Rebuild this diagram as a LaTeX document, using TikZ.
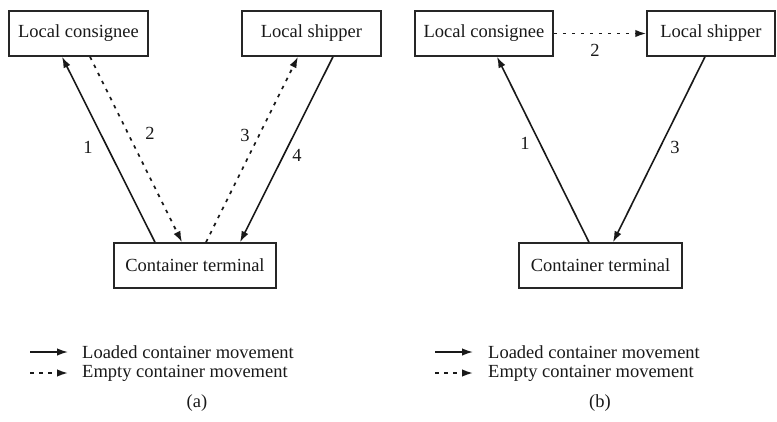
\documentclass[tikz,border=0pt]{standalone}
\usepackage{fontspec}
\setmainfont{Liberation Serif}
\usetikzlibrary{arrows.meta}
\begin{document}
\begin{tikzpicture}[x=1pt,y=-1pt,
  every node/.style={font=\fontsize{18.5}{21}\selectfont, text=black!90},
  box/.style={draw=black!85, line width=1.5pt, minimum height=45pt, inner sep=0pt},
  loaded/.style={draw=black!90, line width=1.6pt, -{Latex[length=11pt,width=7.5pt]}},
  empty/.style={draw=black!90, line width=1.7pt, dash pattern=on 3.5pt off 5.5pt, -{Latex[length=11pt,width=7.5pt]}},
  lbl/.style={inner sep=0pt}
]
\useasboundingbox (0,0) rectangle (777,421);
% panel (a)
\node[box, minimum width=139pt] (ca) at (78.5,33.5) {Local consignee};
\node[box, minimum width=139pt] (sa) at (311.5,33.5) {Local shipper};
\node[box, minimum width=162pt] (ta) at (195,265.5) {Container terminal};
\draw[loaded] ([xshift=-40pt]ta.north) -- ([xshift=-16.5pt]ca.south);
\draw[empty] ([xshift=11.5pt]ca.south) -- ([xshift=-13pt]ta.north);
\draw[empty] ([xshift=11pt]ta.north) -- ([xshift=-13.5pt]sa.south);
\draw[loaded] ([xshift=21.5pt]sa.south) -- ([xshift=45pt]ta.north);
\node[lbl] (na1) at (88,147) {1};
\node[lbl] (na2) at (150,133) {2};
\node[lbl] (na3) at (245,135) {3};
\node[lbl] (na4) at (297,155) {4};
% panel (b)
\node[box, minimum width=138pt] (cb) at (484,33.5) {Local consignee};
\node[box, minimum width=128pt] (sb) at (711,33.5) {Local shipper};
\node[box, minimum width=163pt] (tb) at (600.5,265.5) {Container terminal};
\draw[loaded] ([xshift=-11.5pt]tb.north) -- ([xshift=13pt]cb.south);
\draw[empty] (cb.east) -- (sb.west);
\draw[loaded] ([xshift=-6pt]sb.south) -- ([xshift=12.5pt]tb.north);
\node[lbl] (nb1) at (525,143) {1};
\node[lbl] (nb2) at (595,50) {2};
\node[lbl] (nb3) at (675,147) {3};
% legend (a)
\coordinate (la1) at (30,352); \coordinate (la2) at (68,352);
\coordinate (la3) at (30,373); \coordinate (la4) at (68,373);
\draw[loaded] (la1) -- (la2);
\draw[empty] (la3) -- (la4);
\node[lbl, anchor=west] (lat1) at (82,352) {Loaded container movement};
\node[lbl, anchor=west] (lat2) at (82,373) {Empty container movement};
\node[lbl] (capa) at (197,403) {(a)};
% legend (b)
\coordinate (lb1) at (435,352); \coordinate (lb2) at (473,352);
\coordinate (lb3) at (435,373); \coordinate (lb4) at (473,373);
\draw[loaded] (lb1) -- (lb2);
\draw[empty] (lb3) -- (lb4);
\node[lbl, anchor=west] (lbt1) at (488,352) {Loaded container movement};
\node[lbl, anchor=west] (lbt2) at (488,373) {Empty container movement};
\node[lbl] (capb) at (600,403) {(b)};
\end{tikzpicture}
\end{document}
